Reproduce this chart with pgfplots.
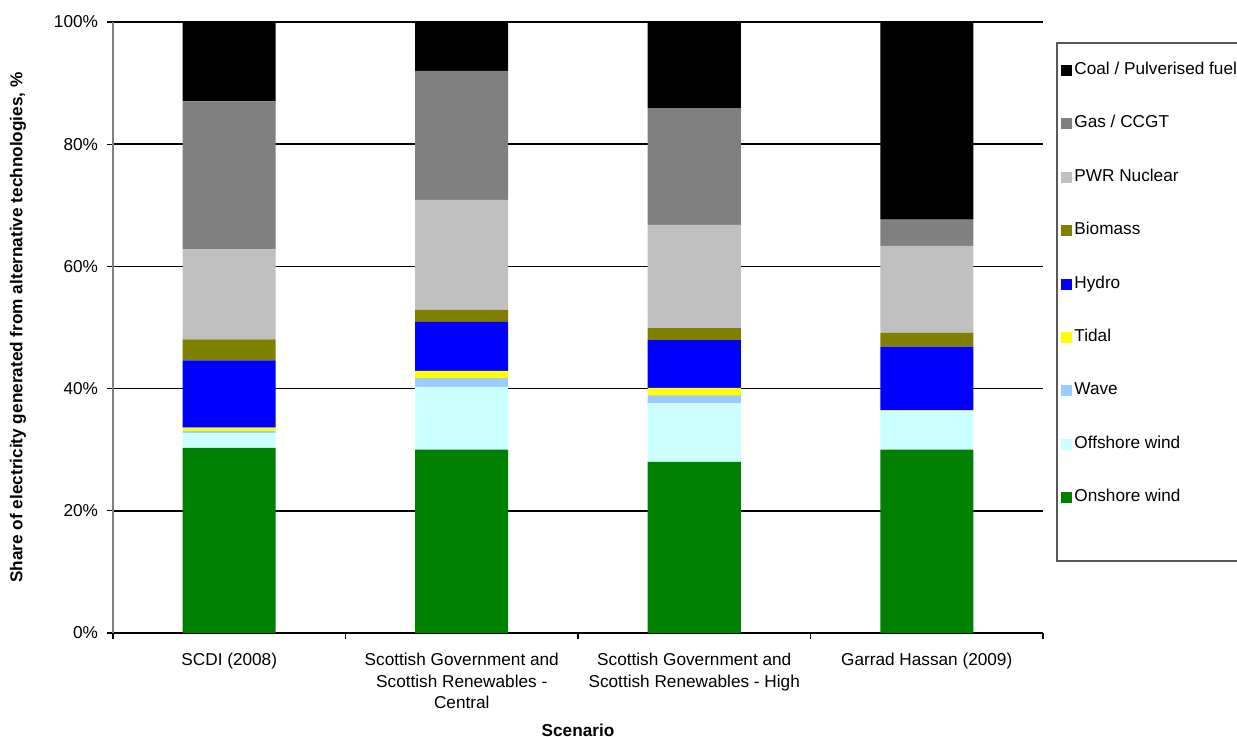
\documentclass[border=0pt]{standalone}
\usepackage{pgfplots}
\pgfplotsset{compat=1.18}
\usepackage{pgfplotstable}
\usepackage{fontspec}
\setmainfont{Liberation Sans}
\definecolor{cCoal}{RGB}{0,0,0}
\definecolor{cGas}{RGB}{128,128,128}
\definecolor{cNuc}{RGB}{192,192,192}
\definecolor{cBio}{RGB}{128,128,0}
\definecolor{cHydro}{RGB}{0,0,255}
\definecolor{cTidal}{RGB}{255,255,0}
\definecolor{cWave}{RGB}{153,204,255}
\definecolor{cOff}{RGB}{204,255,255}
\definecolor{cOn}{RGB}{0,128,0}
\pgfplotstableread{
x onshore offshore wave tidal hydro biomass nuclear gas coal
0 30.3 2.45 0.35 0.5 11.0 3.45 14.75 24.2 13.0
1 30.0 10.3 1.4 1.2 8.0 2.0 18.0 21.1 8.0
2 28.0 9.6 1.3 1.2 7.85 1.95 16.9 19.1 14.1
3 30.0 6.3 0.0 0.15 10.4 2.3 14.2 4.3 32.35
}\datatable
\begin{document}
\begin{tikzpicture}
\path[use as bounding box, clip] (-56.5pt,-52pt) rectangle (562pt,316.5pt);
\begin{axis}[
  at={(0,0)}, anchor=south west,
  scale only axis, width=465pt, height=305.5pt,
  font=\fontsize{8.6}{10.85}\selectfont,
  ybar stacked, bar width=46.5pt,
  xmin=-0.5, xmax=3.5, ymin=0, ymax=100,
  axis x line=bottom, axis y line=left,
  axis line style={-},
  x axis line style={black, line width=0.6pt},
  y axis line style={gray, line width=0.6pt},
  xtick={0,1,2,3},
  xticklabels={SCDI (2008), {Scottish Government and\\Scottish Renewables -\\Central}, {Scottish Government and\\Scottish Renewables - High}, Garrad Hassan (2009)},
  xticklabel style={align=center, yshift=-3.5pt},
  major x tick style={draw=none},
  minor xtick={-0.5,0.5,1.5,2.5,3.5},
  minor tick length=3pt, major tick length=3pt,
  tick align=outside,
  tick style={black, line width=0.6pt},
  ytick={0,20,40,60,80,100},
  yticklabels={0\%,20\%,40\%,60\%,80\%,100\%},
  yticklabel style={xshift=-1pt},
  ymajorgrids, grid style={black, line width=0.75pt},
  xlabel={\textbf{Scenario}},
  xlabel style={at={(axis description cs:0.5,-0.1588)}, anchor=center},
  ylabel={\textbf{Share of electricity generated from alternative technologies, \%}},
  ylabel style={at={(axis description cs:-0.1022,0.5)}, anchor=center, rotate=0},
  reverse legend,
  legend cell align=left,
  legend image code/.code={\fill[#1] (0pt,-2.75pt) rectangle (5.5pt,2.75pt);},
  legend style={draw=none, fill=none, inner sep=0pt, row sep=18.7pt,
    at={(axis description cs:1.0194,0.9345)}, anchor=north west,
    nodes={inner ysep=0pt, inner xsep=1pt, text height=6pt, text depth=2pt}},
]
\addplot[fill=cOn, draw=none] table[x=x, y=onshore] {\datatable};
\addlegendentry{Onshore wind}
\addplot[fill=cOff, draw=none] table[x=x, y=offshore] {\datatable};
\addlegendentry{Offshore wind}
\addplot[fill=cWave, draw=none] table[x=x, y=wave] {\datatable};
\addlegendentry{Wave}
\addplot[fill=cTidal, draw=none] table[x=x, y=tidal] {\datatable};
\addlegendentry{Tidal}
\addplot[fill=cHydro, draw=none] table[x=x, y=hydro] {\datatable};
\addlegendentry{Hydro}
\addplot[fill=cBio, draw=none] table[x=x, y=biomass] {\datatable};
\addlegendentry{Biomass}
\addplot[fill=cNuc, draw=none] table[x=x, y=nuclear] {\datatable};
\addlegendentry{PWR Nuclear}
\addplot[fill=cGas, draw=none] table[x=x, y=gas] {\datatable};
\addlegendentry{Gas / CCGT}
\addplot[fill=cCoal, draw=none] table[x=x, y=coal] {\datatable};
\addlegendentry{Coal / Pulverised fuel}
\end{axis}
\draw[gray!70!black, line width=0.6pt] (472pt,36pt) rectangle (620pt,295pt);
\end{tikzpicture}
\end{document}
